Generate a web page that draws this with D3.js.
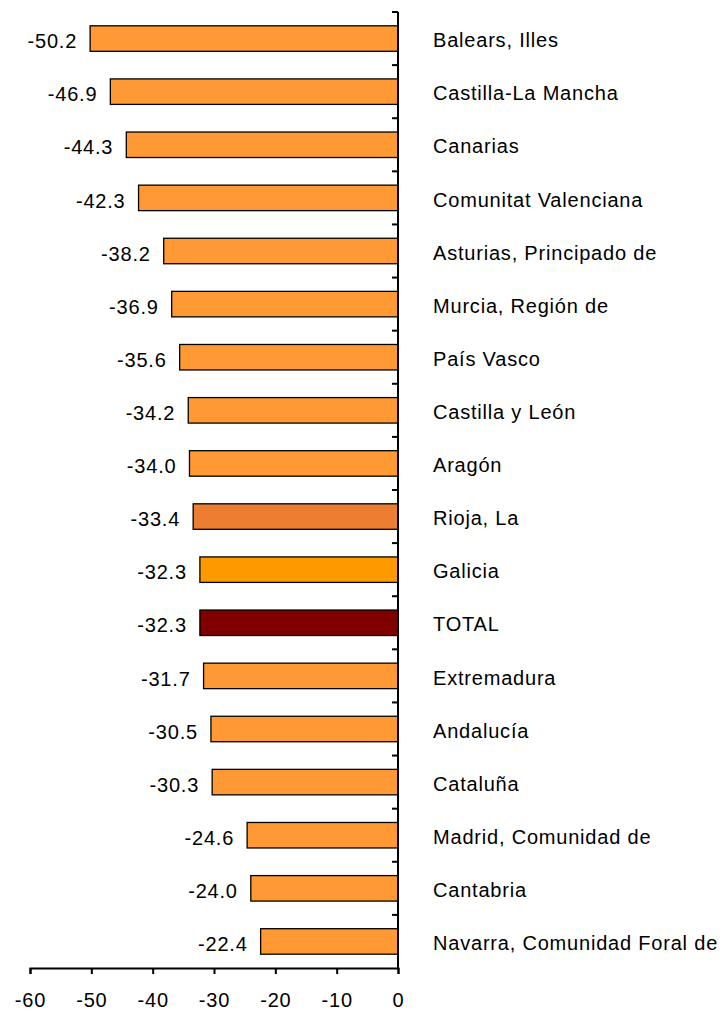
<!DOCTYPE html>
<html>
<head>
<meta charset="utf-8">
<script src="https://cdn.jsdelivr.net/npm/d3@7"></script>
<style>
  body { margin: 0; background: #fff; }
  text { font-family: "Liberation Sans", Arial, sans-serif; fill: #000; }
</style>
</head>
<body>
<script>
// data
var regions = ["Balears, Illes", "Castilla-La Mancha", "Canarias", "Comunitat Valenciana",
    "Asturias, Principado de", "Murcia, Región de", "País Vasco", "Castilla y León",
    "Aragón", "Rioja, La", "Galicia", "TOTAL", "Extremadura", "Andalucía", "Cataluña",
    "Madrid, Comunidad de", "Cantabria", "Navarra, Comunidad Foral de"];
var values = [-50.2, -46.9, -44.3, -42.3, -38.2, -36.9, -35.6, -34.2, -34.0, -33.4,
    -32.3, -32.3, -31.7, -30.5, -30.3, -24.6, -24.0, -22.4];
var xTicks = [-60, -50, -40, -30, -20, -10, 0];

var width = 725, height = 1012;
var plotLeft = 30, plotRight = 398, plotTop = 12, plotBottom = 968;
var fontSize = 20, spacing = 0.8;

var barColor = function(name) {
    if (name == "TOTAL") return "#800000";
    if (name == "Rioja, La") return "#ED7D31";
    if (name == "Galicia") return "#FF9900";
    return "#FF9933";
};

var svg = d3.select("body").append("svg")
    .attr("width", width)
    .attr("height", height);

var xScale = d3.scaleLinear().domain([-60, 0]).range([plotLeft, plotRight]);
var yScale = d3.scaleBand().domain(regions).range([plotTop, plotBottom]).paddingInner(0.52).paddingOuter(0.26);
var step = yScale.step();

// bars
svg.selectAll("rect.bar")
    .data(values)
    .enter()
    .append("rect")
    .attr("class", "bar")
    .attr("x", function(d) { return xScale(d); })
    .attr("y", function(d, i) { return yScale(regions[i]); })
    .attr("width", function(d) { return xScale(0) - xScale(d); })
    .attr("height", yScale.bandwidth())
    .attr("fill", function(d, i) { return barColor(regions[i]); })
    .attr("stroke", "#000")
    .attr("stroke-width", 1.3);

// value labels
svg.selectAll("text.val")
    .data(values)
    .enter()
    .append("text")
    .attr("class", "val")
    .attr("font-size", fontSize)
    .attr("letter-spacing", spacing)
    .attr("text-anchor", "end")
    .attr("dy", "0.36em")
    .attr("y", function(d, i) { return yScale(regions[i]) + yScale.bandwidth() / 2 + 2.5; })
    .text(function(d) { return d.toFixed(1); })
    .attr("x", function(d) {
        var w = this.getComputedTextLength();
        return Math.max(xScale(d) - 13, w + 9);
    });

// category labels
svg.selectAll("text.cat")
    .data(regions)
    .enter()
    .append("text")
    .attr("class", "cat")
    .attr("font-size", fontSize)
    .attr("letter-spacing", spacing)
    .attr("x", 433)
    .attr("y", function(d) { return yScale(d) + yScale.bandwidth() / 2 + 1.5; })
    .attr("dy", "0.36em")
    .text(function(d) { return d; });

// y axis line + ticks at band boundaries
svg.append("line")
    .attr("x1", plotRight).attr("x2", plotRight)
    .attr("y1", plotTop).attr("y2", plotBottom)
    .attr("stroke", "#000").attr("stroke-width", 2);

svg.selectAll("line.ytick")
    .data(d3.range(regions.length))
    .enter()
    .append("line")
    .attr("class", "ytick")
    .attr("x1", plotRight - 6).attr("x2", plotRight)
    .attr("y1", function(i) { return plotTop + i * step; })
    .attr("y2", function(i) { return plotTop + i * step; })
    .attr("stroke", "#000").attr("stroke-width", 2);

// x axis
var xAxis = d3.axisBottom(xScale)
    .tickValues(xTicks)
    .tickSize(6)
    .tickPadding(19)
    .tickFormat(d3.format("d"));

var gx = svg.append("g")
    .attr("transform", "translate(0," + plotBottom + ")")
    .call(xAxis);

gx.select(".domain").attr("stroke", "#000").attr("stroke-width", 2);
gx.selectAll(".tick line").attr("stroke", "#000").attr("stroke-width", 2);
gx.selectAll(".tick text")
    .attr("font-size", fontSize)
    .attr("letter-spacing", spacing)
    .attr("font-family", "Liberation Sans, Arial, sans-serif")
    .attr("fill", "#000")
    .text(function(d) { return d == 0 ? "0" : "-" + Math.abs(d); });
</script>
</body>
</html>
